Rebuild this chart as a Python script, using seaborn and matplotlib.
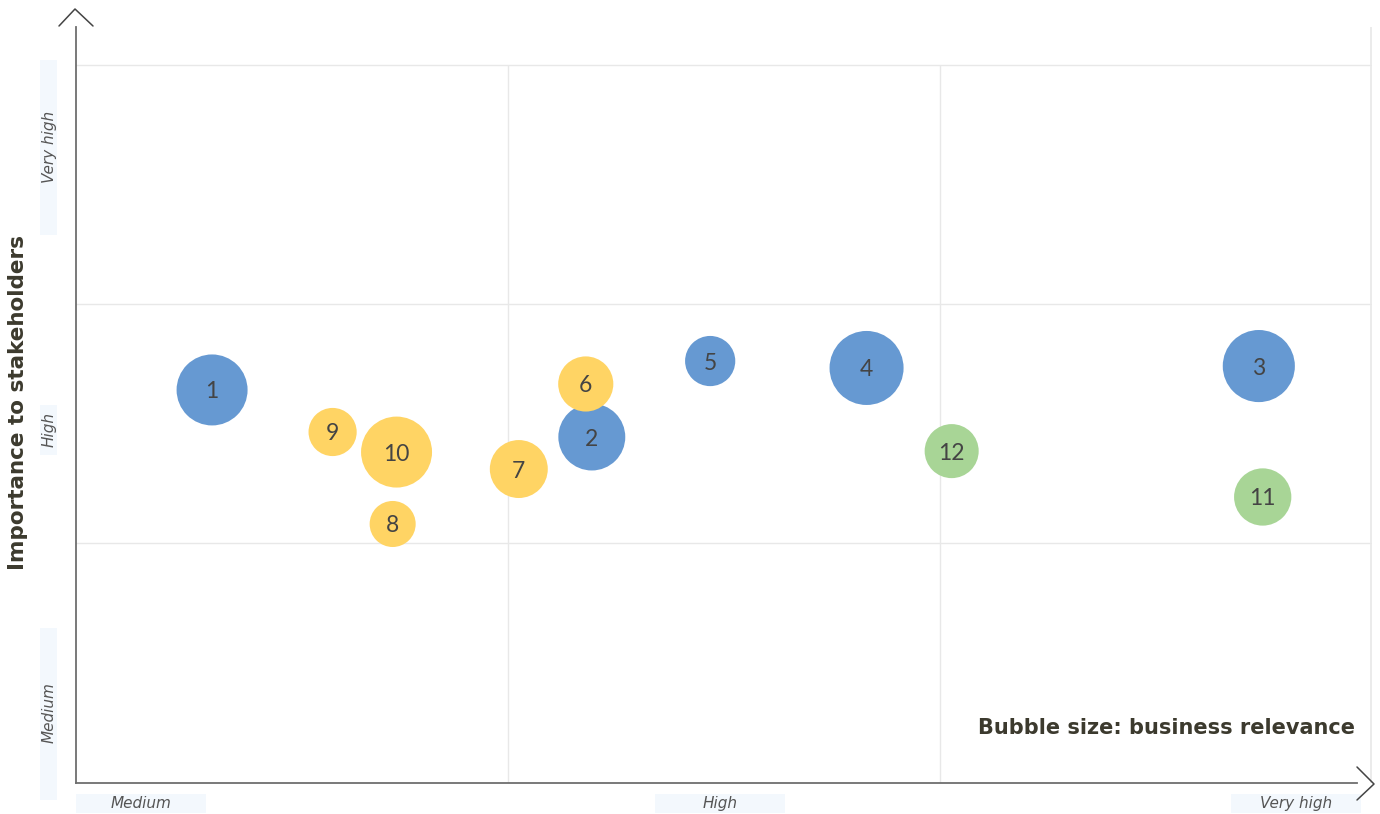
import numpy as np
import pandas as pd
import matplotlib.pyplot as plt
import seaborn as sns
from matplotlib.lines import Line2D
from matplotlib.patches import Rectangle
import matplotlib.transforms as mtransforms

# data
topic_ids = [1, 2, 3, 4, 5, 6, 7, 8, 9, 10, 11, 12]
business_impact = [0.315, 1.194, 2.738, 1.830, 1.468, 1.180, 1.025, 0.733, 0.594, 0.742, 2.747, 2.027]
stakeholder_importance = [1.639, 1.442, 1.739, 1.731, 1.760, 1.664, 1.308, 1.078, 1.463, 1.379, 1.191, 1.383]
business_relevance = [12.6, 11.2, 13.0, 13.7, 6.3, 7.6, 8.4, 5.3, 5.8, 12.6, 8.2, 7.3]
pillar = ["Environment"] * 5 + ["Social"] * 5 + ["Governance"] * 2

x_levels = ["Medium", "High", "Very high"]
y_levels = ["Medium", "High", "Very high"]

PALETTE = {"Environment": "#6699d2", "Social": "#ffd464", "Governance": "#a8d596"}
TEXT_DARK = "#3c3a2e"
GRID = "#e8e8e8"
W, H = 1380, 814


def px(x, y):
    # figure pixel (from top-left) -> figure fraction
    return x / W, 1 - y / H


def main():
    df = pd.DataFrame({
        "id": topic_ids,
        "impact": business_impact,
        "importance": stakeholder_importance,
        "relevance": business_relevance,
        "pillar": pillar,
    })

    sns.set_theme(style="white")
    plt.rcParams["font.family"] = ["Lato", "DejaVu Sans"]

    fig = plt.figure(figsize=(W / 100, H / 100), dpi=100)
    ax = fig.add_axes([76 / W, 31 / H, 1296 / W, 756 / H])

    ax.set_xlim(0, 3)
    ax.set_ylim(-0.006, 3.158)
    ax.set_xticks([])
    ax.set_yticks([])

    # grid: vertical lines stop at the top level, the right one runs full height
    for v in [1, 2, 3]:
        ax.axhline(v, color=GRID, linewidth=1, zorder=0)
    ax.vlines([1, 2], 0, 3, color=GRID, linewidth=1, zorder=0)
    ax.axvline(2.998, color=GRID, linewidth=1.2, zorder=0)

    sns.scatterplot(data=df, x="impact", y="importance", hue="pillar", palette=PALETTE,
                    size="relevance", sizes=(0, 2903), size_norm=(0, 14),
                    linewidth=0, alpha=1, legend=False, ax=ax, zorder=3)

    for _, row in df.iterrows():
        ax.text(row["impact"], row["importance"], str(row["id"]), ha="center",
                va="center_baseline", fontsize=16.5, color="#444444", zorder=4)

    ax.set_xlabel("")
    ax.set_ylabel("")

    for side in ["top", "right"]:
        ax.spines[side].set_visible(False)
    for side in ["left", "bottom"]:
        ax.spines[side].set_color("#6e6e6e")
        ax.spines[side].set_linewidth(1.3)
    ax.spines["bottom"].set_bounds(0, (1357 - 76) / 432)

    # level labels with soft background boxes
    lab_font = dict(fontsize=11, style="italic", color="#555555", family="DejaVu Sans")
    bx = mtransforms.blended_transform_factory(ax.transData, ax.transAxes)
    x_centers = [0.150, 1.491, 2.824]
    for lab, c in zip(x_levels, x_centers):
        ax.add_patch(Rectangle((c - 0.150, -0.0397), 0.300, 0.0251, transform=bx,
                               facecolor="#f3f8fd", edgecolor="none", clip_on=False))
        ax.text(c, -0.0265, lab, transform=bx, ha="center", va="center", **lab_font)

    by = mtransforms.blended_transform_factory(ax.transAxes, ax.transData)
    y_centers = [0.288, 1.472, 2.656]
    y_boxes = [(-0.076, 0.643), (1.367, 1.576), (2.287, 3.020)]
    for lab, c, (b0, b1) in zip(y_levels, y_centers, y_boxes):
        ax.add_patch(Rectangle((-0.0278, b0), 0.0131, b1 - b0, transform=by,
                               facecolor="#f3f8fd", edgecolor="none", clip_on=False))
        ax.text(-0.0208, c, lab, transform=by, ha="center", va="center", rotation=90,
                **lab_font)

    title_font = dict(fontweight="bold", color=TEXT_DARK, family="DejaVu Sans")
    ax.text(-0.0448, 0.503, "Importance to stakeholders", transform=ax.transAxes,
            rotation=90, ha="center", va="center", fontsize=15.5, **title_font)
    ax.text(0.987, 0.0728, "Bubble size: business relevance", transform=ax.transAxes,
            ha="right", va="center", fontsize=15, **title_font)

    # arrow heads
    for pts in ([(59, 26), (75, 9), (93, 26)], [(1357, 767), (1374, 784), (1357, 800)]):
        xs, ys = zip(*[px(a, b) for a, b in pts])
        fig.add_artist(Line2D(xs, ys, transform=fig.transFigure, color="#444444", linewidth=1.1))

    fig.savefig("out.png", dpi=100)
    plt.close(fig)


if __name__ == "__main__":
    main()
